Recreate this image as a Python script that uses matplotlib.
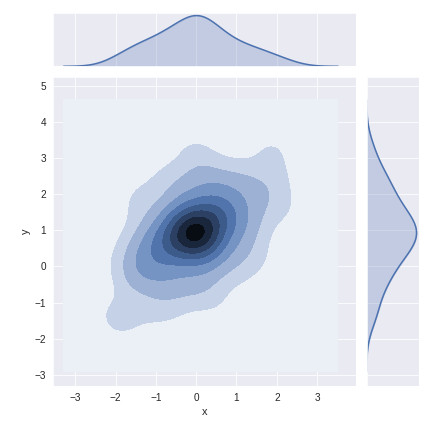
import colorsys
import matplotlib
matplotlib.use("Agg")
import matplotlib.pyplot as plt
import matplotlib.colors as mcolors
import numpy as np
import seaborn as sns

sns.set_style("darkgrid")
plt.rcParams['font.family'] = ['Liberation Sans', 'DejaVu Sans']

# sample points
x = np.array([
    -0.31, 0.12, -0.08, 0.21, -0.52, 0.41, -0.18, 0.02, 0.33, -0.44,
    0.58, -0.63, 0.09, -0.12, 0.49, -0.71, 0.17, -0.29, 0.73, -0.22,
    0.04, 0.38, -0.49, 0.24, -0.11, 0.27, -0.41, 0.62, -0.83, 0.13,
    -0.34, 0.52, -0.58, 0.81, -0.02, -0.19, 0.31, -0.91, 0.88, 0.19,
    -1.02, -1.18, -1.09, -0.79, -1.42, -1.27, -0.93, -1.01, -0.62, -0.38,
    -0.09, 0.22, 0.48, 0.79, 1.12, 1.31, 0.98, 1.21, 1.38, 1.09,
    0.91, 0.68, 0.41, 0.03, -0.42, -0.69, -1.61, -1.48, -1.72, 1.52,
    1.69, 1.58, -0.21, 0.29, 1.03, 0.02, -0.51, -1.22, -1.49, 1.29,
    0.61, -0.81, 0.11, 1.78, -1.31,
    -1.98, -1.79, -2.08, -1.88, -1.58, -0.89, 0.08, -0.12, 1.72, 1.98,
    2.19, 2.31, 2.08, 1.62, 1.19, 0.58, -0.61, -1.19, -1.45, -0.05,
])
y = np.array([
    0.91, 1.19, 0.71, 0.88, 0.62, 1.31, 1.42, 1.01, 0.59, 1.11,
    0.98, 0.91, 0.41, 1.61, 1.58, 0.39, 1.09, 0.31, 1.42, 0.79,
    1.28, 0.82, 1.29, 1.51, 0.49, 1.21, 0.69, 1.79, 0.71, 0.81,
    1.22, 0.52, 0.19, 1.12, 0.61, 0.99, 1.88, 0.52, 1.59, 0.22,
    0.01, 0.31, -0.28, -0.19, -0.09, 0.61, 1.21, 1.62, 1.78, 2.02,
    2.19, 2.41, 2.21, 2.08, 2.31, 1.89, 1.22, 1.51, 0.98, 0.69,
    0.29, 0.02, -0.11, -0.22, -0.41, -0.58, -0.49, 0.19, -0.21, 2.42,
    1.71, 1.19, -0.61, -0.52, 2.58, 2.71, 2.39, 0.98, 0.79, 0.41,
    2.69, -0.98, -0.88, 2.21, -0.71,
    -1.49, -1.61, -1.21, 0.29, 1.69, 2.61, 3.11, 3.31, 3.21, 3.32,
    2.69, 1.49, 1.98, 0.19, -0.31, -1.09, -1.31, -1.41, 2.10, 1.00,
])

color = "#4c72b0"
cut = 3
gridsize = 100


def scott_bw(v):
    iqr = np.subtract(*np.percentile(v, [75, 25]))
    a = min(np.std(v, ddof=1), iqr / 1.349)
    return 1.059 * a * len(v) ** (-1 / 5)


def kde1d(v):
    bw = scott_bw(v)
    grid = np.linspace(v.min() - cut * bw, v.max() + cut * bw, gridsize)
    d = np.exp(-0.5 * ((grid[:, None] - v[None, :]) / bw) ** 2).sum(1)
    return grid, d / (len(v) * bw * np.sqrt(2 * np.pi))


def kde2d(vx, vy):
    bx, by = scott_bw(vx), scott_bw(vy)
    gx = np.linspace(vx.min() - cut * bx, vx.max() + cut * bx, gridsize)
    gy = np.linspace(vy.min() - cut * by, vy.max() + cut * by, gridsize)
    kx = np.exp(-0.5 * ((gx[:, None] - vx[None, :]) / bx) ** 2)
    ky = np.exp(-0.5 * ((gy[:, None] - vy[None, :]) / by) ** 2)
    z = ky @ kx.T / (len(vx) * 2 * np.pi * bx * by)
    return gx, gy, z


# colormap from white through the blue to black
h, l, s = colorsys.rgb_to_hls(*mcolors.to_rgb(color))
cmap = mcolors.LinearSegmentedColormap.from_list(
    "blend", [colorsys.hls_to_rgb(h, li, s) for li in np.linspace(1, 0, 12)])

fig = plt.figure(figsize=(6, 6), dpi=72)
gs = fig.add_gridspec(6, 6, left=53 / 432, right=419 / 432,
                      bottom=46 / 432, top=419 / 432, hspace=0.2, wspace=0.2)
ax_joint = fig.add_subplot(gs[1:, :-1])
ax_mx = fig.add_subplot(gs[0, :-1], sharex=ax_joint)
ax_my = fig.add_subplot(gs[1:, -1], sharey=ax_joint)

gx, gy, z = kde2d(x, y)
ax_joint.contourf(gx, gy, z, 10, cmap=cmap)
ax_joint.set_xlim(-3.55, 3.97)
ax_joint.set_ylim(-3.31, 5.25)
ax_joint.set_xlabel("x", fontsize=11)
ax_joint.set_ylabel("y", fontsize=11)
ax_joint.tick_params(labelsize=10)

mx, dx = kde1d(x)
ax_mx.plot(mx, dx, color=color, lw=1.5)
ax_mx.fill_between(mx, 0, dx, color=color, alpha=0.25)
ax_mx.set_ylim(bottom=0)
ax_mx.yaxis.grid(False)
ax_mx.tick_params(labelbottom=False, labelleft=False)

my, dy = kde1d(y)
ax_my.plot(dy, my, color=color, lw=1.5)
ax_my.fill_betweenx(my, 0, dy, color=color, alpha=0.25)
ax_my.set_xlim(left=0)
ax_my.xaxis.grid(False)
ax_my.tick_params(labelbottom=False, labelleft=False)

plt.savefig("out.png", dpi=72)
